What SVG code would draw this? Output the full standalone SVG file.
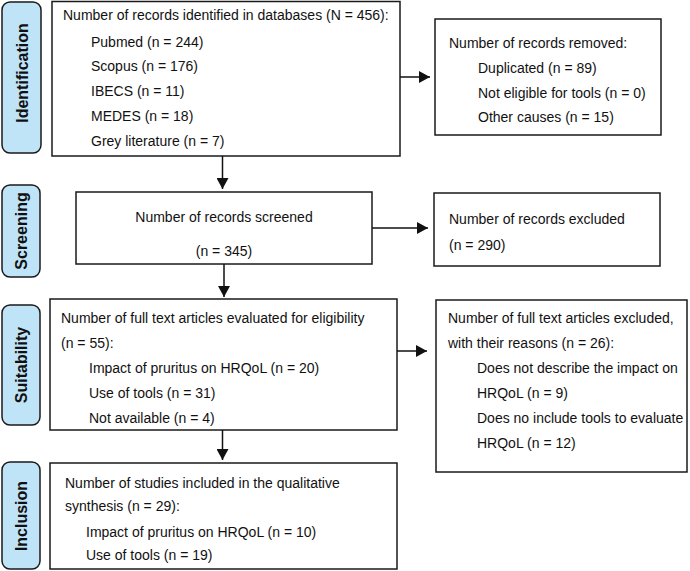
<svg xmlns="http://www.w3.org/2000/svg" width="690" height="571" viewBox="0 0 690 571">
<style>
.box{fill:#fff;stroke:#1a1a1a;stroke-width:1.5}
.pill{fill:#bfe4f8;stroke:#1a1a1a;stroke-width:1.5}
.t{font-family:"Liberation Sans",Arial,sans-serif;font-size:14px;fill:#111}
.lab{font-family:"Liberation Sans",Arial,sans-serif;font-size:16px;font-weight:bold;fill:#111;text-anchor:middle}
.c{text-anchor:middle}
.conn{stroke:#111;stroke-width:1.5;fill:none;marker-end:url(#ah)}
</style>
<defs>
<marker id="ah" markerUnits="userSpaceOnUse" markerWidth="12" markerHeight="12" refX="11" refY="6" orient="auto">
<path d="M0,0 L11,6 L0,12 z" fill="#111"/>
</marker>
</defs>
<rect width="690" height="571" fill="#fff"/>

<g id="stage-identification">
<rect class="pill" x="2" y="2" width="39" height="151" rx="8"/>
<text class="lab" transform="translate(27.5,73) rotate(-90)">Identification</text>
</g>
<g id="stage-screening">
<rect class="pill" x="2" y="185" width="38" height="92" rx="8"/>
<text class="lab" transform="translate(27,231) rotate(-90)">Screening</text>
</g>
<g id="stage-suitability">
<rect class="pill" x="2" y="305" width="38" height="120" rx="8"/>
<text class="lab" transform="translate(27,365) rotate(-90)">Suitability</text>
</g>
<g id="stage-inclusion">
<rect class="pill" x="2" y="462" width="38" height="107" rx="8"/>
<text class="lab" transform="translate(27,516) rotate(-90)">Inclusion</text>
</g>

<g id="identified">
<rect class="box" x="52" y="1.5" width="348" height="154.5"/>
<text class="t" x="63" y="20">Number of records identified in databases (N = 456):</text>
<text class="t" x="91" y="47">Pubmed (n = 244)</text>
<text class="t" x="91" y="71">Scopus (n = 176)</text>
<text class="t" x="91" y="96">IBECS (n = 11)</text>
<text class="t" x="91" y="121">MEDES (n = 18)</text>
<text class="t" x="91" y="146">Grey literature (n = 7)</text>
</g>

<g id="removed">
<rect class="box" x="435" y="19" width="226" height="116"/>
<text class="t" x="449" y="48">Number of records removed:</text>
<text class="t" x="478" y="73">Duplicated (n = 89)</text>
<text class="t" x="478" y="98">Not eligible for tools (n = 0)</text>
<text class="t" x="478" y="122">Other causes (n = 15)</text>
</g>

<g id="screened">
<rect class="box" x="76" y="192" width="296" height="72"/>
<text class="t c" x="224" y="222">Number of records screened</text>
<text class="t c" x="224" y="256">(n = 345)</text>
</g>

<g id="excluded">
<rect class="box" x="434" y="193" width="226" height="73"/>
<text class="t" x="449" y="224">Number of records excluded</text>
<text class="t" x="449" y="250">(n = 290)</text>
</g>

<g id="eligibility">
<rect class="box" x="50" y="299" width="347" height="131"/>
<text class="t" x="61" y="323">Number of full text articles evaluated for eligibility</text>
<text class="t" x="61" y="348">(n = 55):</text>
<text class="t" x="89" y="373">Impact of pruritus on HRQoL (n = 20)</text>
<text class="t" x="89" y="398">Use of tools (n = 31)</text>
<text class="t" x="89" y="423">Not available (n = 4)</text>
</g>

<g id="fulltext-excluded">
<rect class="box" x="436" y="300" width="251" height="172"/>
<text class="t" x="448" y="323">Number of full text articles excluded,</text>
<text class="t" x="448" y="348">with their reasons (n = 26):</text>
<text class="t" x="477" y="373">Does not describe the impact on</text>
<text class="t" x="477" y="398">HRQoL (n = 9)</text>
<text class="t" x="477" y="423">Does no include tools to evaluate</text>
<text class="t" x="477" y="448">HRQoL (n = 12)</text>
</g>

<g id="included">
<rect class="box" x="50" y="463" width="347" height="106"/>
<text class="t" x="65" y="488">Number of studies included in the qualitative</text>
<text class="t" x="65" y="511">synthesis (n = 29):</text>
<text class="t" x="86" y="537">Impact of pruritus on HRQoL (n = 10)</text>
<text class="t" x="86" y="560">Use of tools (n = 19)</text>
</g>

<g id="connectors">
<line class="conn" x1="400" y1="77" x2="430" y2="77"/>
<line class="conn" x1="222.5" y1="156" x2="222.5" y2="189"/>
<line class="conn" x1="372" y1="228" x2="428" y2="228"/>
<line class="conn" x1="224" y1="264" x2="224" y2="297"/>
<line class="conn" x1="397" y1="351" x2="427" y2="351"/>
<line class="conn" x1="222.5" y1="430" x2="222.5" y2="460"/>
</g>
</svg>
